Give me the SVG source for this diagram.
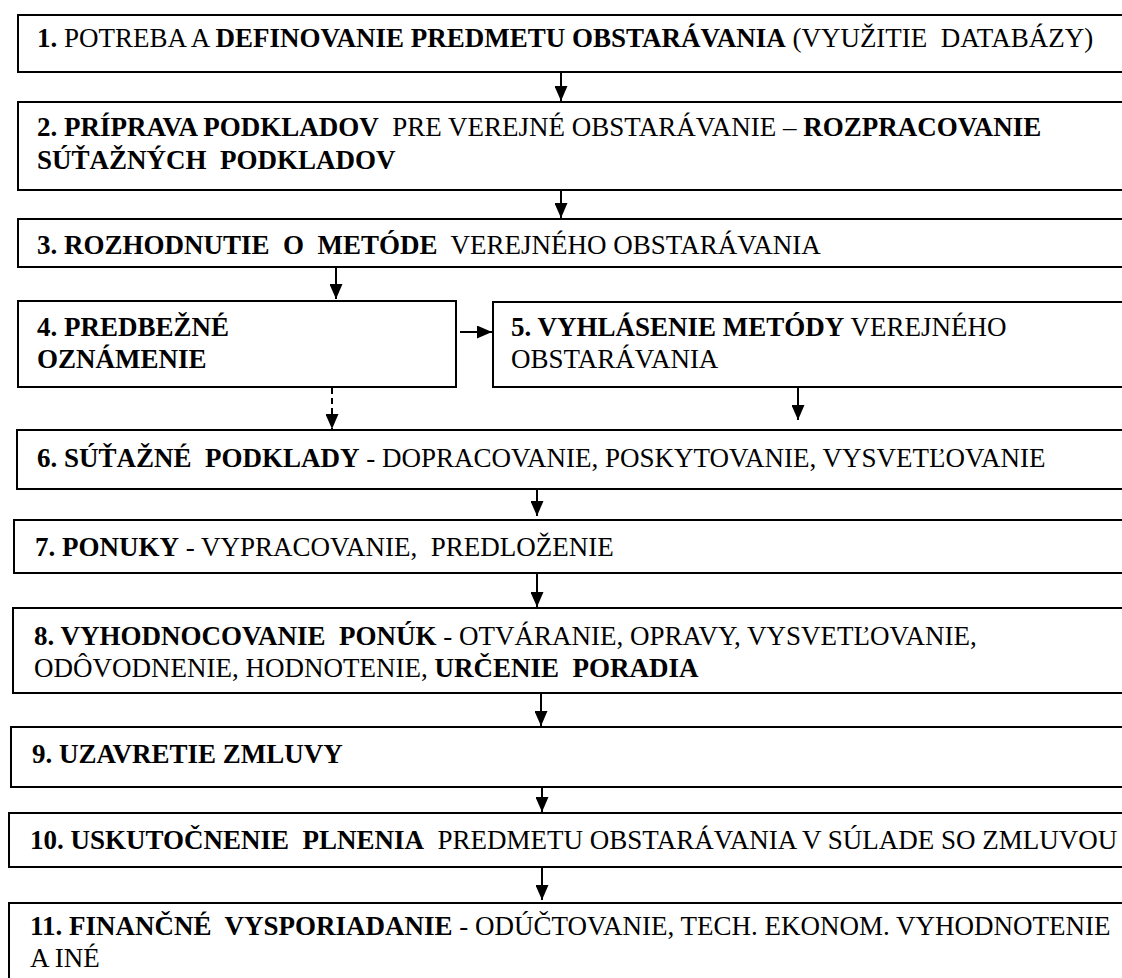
<svg xmlns="http://www.w3.org/2000/svg" width="1122" height="978" viewBox="0 0 1122 978">
<style>
.box{fill:#fff;stroke:#000;stroke-width:2}
.c{stroke:#000;stroke-width:2;fill:none}
.d{stroke-dasharray:6,4}
</style>
<defs>
<marker id="ah" viewBox="0 0 15 13" refX="15" refY="6.5" markerWidth="15" markerHeight="13" markerUnits="userSpaceOnUse" orient="auto">
<path d="M0,0 L15,6.5 L0,13 z" fill="#000"/>
</marker>
</defs>
<rect width="1122" height="978" fill="#fff"/>
<g font-family="Liberation Serif" font-size="27" fill="#000">
<g id="n1"><rect class="box" x="18" y="15" width="1120" height="57"/>
<text x="37" y="47" xml:space="preserve"><tspan font-weight="bold">1.</tspan> POTREBA A <tspan font-weight="bold">DEFINOVANIE PREDMETU OBSTARÁVANIA</tspan> (VYUŽITIE  DATABÁZY)</text></g>
<g id="n2"><rect class="box" x="18" y="102" width="1120" height="88"/>
<text x="37" y="136" xml:space="preserve"><tspan font-weight="bold">2. PRÍPRAVA PODKLADOV</tspan>  PRE VEREJNÉ OBSTARÁVANIE – <tspan font-weight="bold">ROZPRACOVANIE</tspan></text>
<text font-weight="bold" x="37" y="169" xml:space="preserve">SÚŤAŽNÝCH  PODKLADOV</text></g>
<g id="n3"><rect class="box" x="18" y="219" width="1120" height="48"/>
<text x="37" y="254" xml:space="preserve"><tspan font-weight="bold">3. ROZHODNUTIE  O  METÓDE</tspan>  VEREJNÉHO OBSTARÁVANIA</text></g>
<g id="n4"><rect class="box" x="18" y="301" width="438" height="86"/>
<text font-weight="bold" x="37" y="336">4. PREDBEŽNÉ</text>
<text font-weight="bold" x="37" y="368">OZNÁMENIE</text></g>
<g id="n5"><rect class="box" x="493" y="302" width="645" height="85"/>
<text x="511" y="336"><tspan font-weight="bold">5. VYHLÁSENIE METÓDY</tspan> VEREJNÉHO</text>
<text x="511" y="368">OBSTARÁVANIA</text></g>
<g id="n6"><rect class="box" x="17" y="430" width="1121" height="59"/>
<text x="37" y="467" xml:space="preserve"><tspan font-weight="bold">6. SÚŤAŽNÉ  PODKLADY</tspan> - DOPRACOVANIE, POSKYTOVANIE, VYSVETĽOVANIE</text></g>
<g id="n7"><rect class="box" x="14" y="520" width="1124" height="53"/>
<text x="35" y="556" xml:space="preserve"><tspan font-weight="bold">7. PONUKY</tspan> - VYPRACOVANIE,  PREDLOŽENIE</text></g>
<g id="n8"><rect class="box" x="13" y="608" width="1125" height="85"/>
<text x="34" y="645" xml:space="preserve"><tspan font-weight="bold">8. VYHODNOCOVANIE  PONÚK</tspan> - OTVÁRANIE, OPRAVY, VYSVETĽOVANIE,</text>
<text x="34" y="677" xml:space="preserve">ODÔVODNENIE, HODNOTENIE, <tspan font-weight="bold">URČENIE  PORADIA</tspan></text></g>
<g id="n9"><rect class="box" x="11" y="727" width="1127" height="60"/>
<text font-weight="bold" x="32" y="763">9. UZAVRETIE ZMLUVY</text></g>
<g id="n10"><rect class="box" x="9" y="813" width="1129" height="54"/>
<text x="30" y="849" xml:space="preserve"><tspan font-weight="bold">10. USKUTOČNENIE  PLNENIA</tspan>  PREDMETU OBSTARÁVANIA V SÚLADE SO ZMLUVOU</text></g>
<g id="n11"><rect class="box" x="9" y="903" width="1129" height="100"/>
<text x="30" y="935" xml:space="preserve"><tspan font-weight="bold">11. FINANČNÉ  VYSPORIADANIE</tspan> - ODÚČTOVANIE, TECH. EKONOM. VYHODNOTENIE</text>
<text x="30" y="967">A INÉ</text></g>
</g>
<g id="connectors">
<line class="c" x1="561" y1="72" x2="561" y2="101" marker-end="url(#ah)"/>
<line class="c" x1="561" y1="190" x2="561" y2="218" marker-end="url(#ah)"/>
<line class="c" x1="336" y1="267" x2="336" y2="299" marker-end="url(#ah)"/>
<line class="c" x1="460" y1="332" x2="492" y2="332" marker-end="url(#ah)"/>
<line class="c d" x1="332" y1="388" x2="332" y2="429" marker-end="url(#ah)"/>
<line class="c" x1="798" y1="386" x2="798" y2="420" marker-end="url(#ah)"/>
<line class="c" x1="537" y1="489" x2="537" y2="516" marker-end="url(#ah)"/>
<line class="c" x1="537" y1="573" x2="537" y2="607" marker-end="url(#ah)"/>
<line class="c" x1="541" y1="693" x2="541" y2="726" marker-end="url(#ah)"/>
<line class="c" x1="542" y1="787" x2="542" y2="812" marker-end="url(#ah)"/>
<line class="c" x1="542" y1="867" x2="542" y2="900" marker-end="url(#ah)"/>
</g>
</svg>
